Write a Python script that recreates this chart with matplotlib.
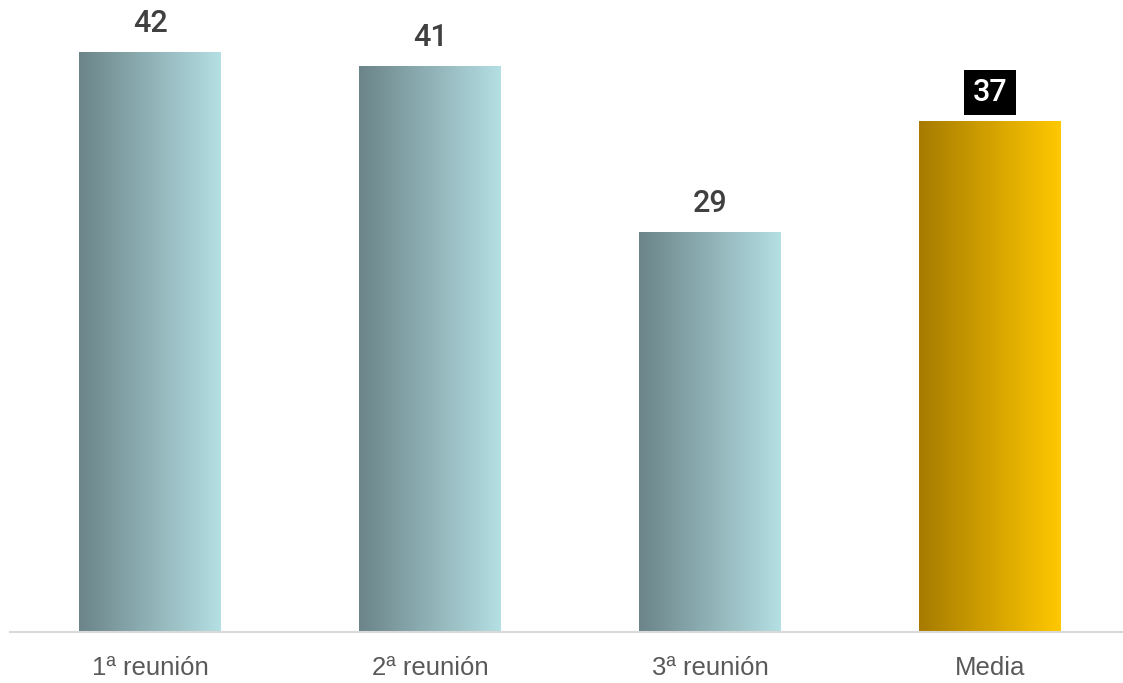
import matplotlib.pyplot as plt
import numpy as np
from matplotlib.colors import LinearSegmentedColormap

categories = ["1ª reunión", "2ª reunión", "3ª reunión", "Media"]
values = [42, 41, 29, 37]
highlight = [False, False, False, True]

teal = LinearSegmentedColormap.from_list("teal", ["#6b8489", "#b4dfe3"])
gold = LinearSegmentedColormap.from_list("gold", ["#a67b00", "#ffc800"])

fig = plt.figure(figsize=(11.23, 6.83), dpi=100)
ax = fig.add_axes([10 / 1123, 51 / 683, 1120 / 1123, 632 / 683])
x = np.arange(len(categories))
width = 0.504
bars = ax.bar(x, values, width=width, color="none", edgecolor="none")
grad = np.linspace(0, 1, 256).reshape(1, -1)
for b, hl in zip(bars, highlight):
    x0 = b.get_x()
    ax.imshow(grad, cmap=gold if hl else teal, aspect="auto",
              extent=[x0, x0 + b.get_width(), 0, b.get_height()], zorder=2)

for xi, v, hl in zip(x, values, highlight):
    if hl:
        ax.annotate(str(v), (xi, v), xytext=(0, 21), textcoords="offset points",
                    ha="center", va="center", fontsize=22, family="Roboto",
                    fontweight="medium", color="white",
                    bbox=dict(boxstyle="square,pad=0.27", fc="black", ec="none"))
    else:
        ax.annotate(str(v), (xi, v), xytext=(0, 21), textcoords="offset points",
                    ha="center", va="center", fontsize=22, family="Roboto",
                    fontweight="medium", color="#404040")

ax.set_xlim(-0.5, 3.5)
ax.set_ylim(0, 45.84)
ax.set_xticks(x)
ax.set_xticklabels(categories, fontsize=18.5, color="#595959", family="Liberation Sans")
ax.tick_params(axis="x", length=0, pad=17)
ax.set_yticks([])
for s in ["top", "right", "left"]:
    ax.spines[s].set_visible(False)
ax.spines["bottom"].set_color("#d9d9d9")
ax.spines["bottom"].set_linewidth(1.5)

fig.savefig("out.png", dpi=100)
